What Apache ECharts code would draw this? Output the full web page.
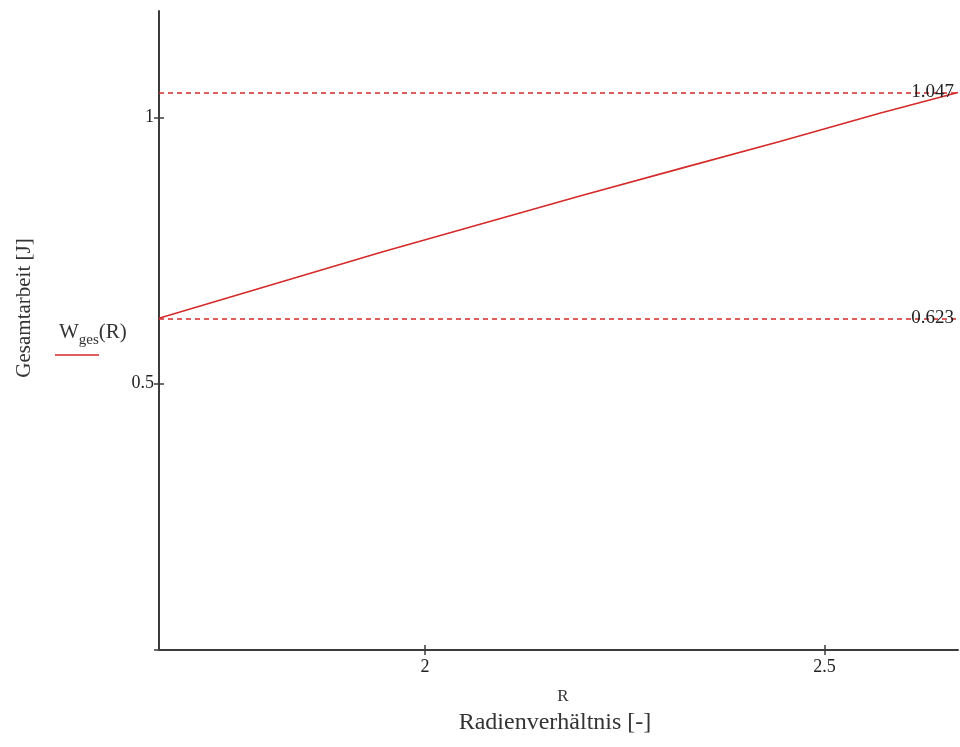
<!DOCTYPE html>
<html>
<head>
<meta charset="utf-8">
<script src="https://cdn.jsdelivr.net/npm/echarts@6/dist/echarts.min.js"></script>
<style>
  html, body { margin: 0; padding: 0; background: #fff; }
  #chart { width: 960px; height: 747px; }
</style>
</head>
<body>
<div id="chart"></div>
<script>
// Radius ratio R and total work W_ges(R) in joules
const radiusRatio = [1.667, 1.945, 2.070, 2.195, 2.319, 2.444, 2.569, 2.667];
const totalWork   = [0.623, 0.747, 0.800, 0.853, 0.904, 0.955, 1.008, 1.047];

// Axis ranges and tick positions
const xRange = [1.667, 2.667];
const yRange = [0, 1.2];
const xTicks = [2, 2.5];
const yTicks = [0, 0.5, 1];
const yTickLabels = [0.5, 1];

// Reference values drawn as dashed lines (maximum and minimum of W_ges)
const refLevels = [totalWork[totalWork.length - 1], totalWork[0]];

const serif = '"Liberation Serif", "DejaVu Serif", serif';
const axisColor = '#3c3c3c';
const red = '#d42a2a';

const fmt = v => String(v);

const chart = echarts.init(document.getElementById('chart'), null, { renderer: 'canvas' });

const baseX = {
  type: 'value', min: xRange[0], max: xRange[1], position: 'bottom',
  splitLine: { show: false }
};
const baseY = {
  type: 'value', min: yRange[0], max: yRange[1], position: 'left',
  splitLine: { show: false }
};

chart.setOption({
  animation: false,
  backgroundColor: '#fff',
  grid: { left: 159, right: 2, top: 11, bottom: 97, outerBoundsMode: 'none', containLabel: false },
  xAxis: [
    Object.assign({}, baseX, {
      axisLine: { show: true, lineStyle: { color: axisColor, width: 2 } },
      axisTick: { show: true, length: 5, inside: false, customValues: xTicks, lineStyle: { color: axisColor, width: 1.5 } },
      axisLabel: { show: true, customValues: xTicks, formatter: fmt, margin: 8,
        fontFamily: serif, fontSize: 18, color: '#222' }
    }),
    // inner half of the crossing ticks
    Object.assign({}, baseX, {
      axisLine: { show: false },
      axisTick: { show: true, length: 5, inside: true, customValues: xTicks, lineStyle: { color: axisColor, width: 1.5 } },
      axisLabel: { show: false }
    })
  ],
  yAxis: [
    Object.assign({}, baseY, {
      axisLine: { show: true, lineStyle: { color: axisColor, width: 2 } },
      axisTick: { show: true, length: 5, inside: false, customValues: yTicks, lineStyle: { color: axisColor, width: 1.5 } },
      axisLabel: { show: true, customValues: yTickLabels, formatter: fmt, margin: 5,
        fontFamily: serif, fontSize: 18, color: '#222', padding: [4, 0, 0, 0] }
    }),
    Object.assign({}, baseY, {
      axisLine: { show: false },
      axisTick: { show: true, length: 5, inside: true, customValues: yTicks, lineStyle: { color: axisColor, width: 1.5 } },
      axisLabel: { show: false }
    })
  ],
  series: [{
    name: 'W_ges(R)',
    type: 'line',
    xAxisIndex: 0, yAxisIndex: 0,
    data: radiusRatio.map((r, i) => [r, totalWork[i]]),
    showSymbol: false,
    smooth: false,
    lineStyle: { color: red, width: 1.6 },
    markLine: {
      silent: true,
      precision: 3,
      symbol: ['none', 'none'],
      lineStyle: { color: red, type: [5, 4], width: 1.5 },
      label: {
        show: true,
        position: 'insideEnd',
        distance: 4,
        formatter: p => Number(p.value).toFixed(3),
        fontFamily: serif, fontSize: 19, color: '#222'
      },
      data: refLevels.map(v => ({ yAxis: v }))
    }
  }],
  graphic: [
    // y axis title
    {
      type: 'text', x: 24, y: 308, rotation: Math.PI / 2,
      style: { text: 'Gesamtarbeit [J]', font: '21px ' + serif, fill: '#333',
        textAlign: 'center', textVerticalAlign: 'middle' }
    },
    // x axis variable and title
    {
      type: 'text', x: 563, y: 697,
      style: { text: 'R', font: '17px ' + serif, fill: '#333',
        textAlign: 'center', textVerticalAlign: 'middle' }
    },
    {
      type: 'text', x: 555, y: 723,
      style: { text: 'Radienverhältnis [-]', font: '24px ' + serif, fill: '#333',
        textAlign: 'center', textVerticalAlign: 'middle' }
    },
    // series key
    {
      type: 'text', x: 59, y: 332,
      style: {
        text: '{w|W}{s|ges}{w|(R)}',
        rich: {
          w: { font: '21px ' + serif, fill: '#333', verticalAlign: 'bottom' },
          s: { font: '15px ' + serif, fill: '#333', verticalAlign: 'bottom', padding: [0, 0, -5, 0] }
        },
        textVerticalAlign: 'middle'
      }
    },
    {
      type: 'line', shape: { x1: 55, y1: 355, x2: 99, y2: 355 },
      style: { stroke: red, lineWidth: 1.6 }
    }
  ]
});
</script>
</body>
</html>
